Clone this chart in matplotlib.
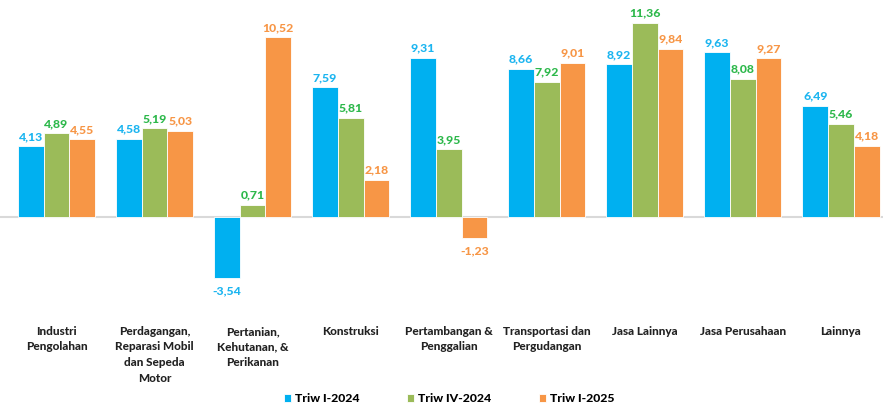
import matplotlib.pyplot as plt
import numpy as np

categories = [
    "Industri\nPengolahan",
    "Perdagangan,\nReparasi Mobil\ndan Sepeda\nMotor",
    "Pertanian,\nKehutanan, &\nPerikanan",
    "Konstruksi",
    "Pertambangan &\nPenggalian",
    "Transportasi dan\nPergudangan",
    "Jasa Lainnya",
    "Jasa Perusahaan",
    "Lainnya",
]
series_names = ["Triw I-2024", "Triw IV-2024", "Triw I-2025"]
triw1_2024 = [4.13, 4.58, -3.54, 7.59, 9.31, 8.66, 8.92, 9.63, 6.49]
triw4_2024 = [4.89, 5.19, 0.71, 5.81, 3.95, 7.92, 11.36, 8.08, 5.46]
triw1_2025 = [4.55, 5.03, 10.52, 2.18, -1.23, 9.01, 9.84, 9.27, 4.18]

bar_colors = ["#00B0F0", "#9BBB59", "#F79646"]
text_colors = ["#1CB5F0", "#2DB84B", "#F79646"]

plt.rcParams['font.family'] = ['Lato', 'DejaVu Sans']

W, H = 883, 408
fig = plt.figure(figsize=(W / 100, H / 100), dpi=100)
ax = fig.add_axes([0, 0, 1, 1])

x = np.arange(len(categories))
w = 0.262
data = [triw1_2024, triw4_2024, triw1_2025]
for k, vals in enumerate(data):
    pos = x + (k - 1) * w
    ax.bar(pos, vals, width=w, color=bar_colors[k], edgecolor="white",
           linewidth=0.6, label=series_names[k], zorder=2)
    for px, v in zip(pos, vals):
        lbl = f"{v:.2f}".replace(".", ",")
        if v >= 0:
            ax.text(px, v + 0.25, lbl, ha="center", va="bottom", fontsize=8.8,
                    fontweight="black", color=text_colors[k])
        else:
            ax.text(px, v - 0.45, lbl, ha="center", va="top", fontsize=8.8,
                    fontweight="black", color=text_colors[k])

ax.axhline(0, color="#D9D9D9", linewidth=1.5, zorder=1)

# pixel layout: group 0 centre at 56.5 px, groups 98.06 px apart, zero at y=217
spacing = 98.06
ax.set_xlim(-56.5 / spacing, (W - 56.5) / spacing)
ppu = 17.1
ax.set_ylim(-(H - 217) / ppu, 217 / ppu)
ax.axis("off")

for i, c in enumerate(categories):
    ax.annotate(c, xy=(i, 0), xycoords="data", xytext=(0, -(326 - 217)),
                textcoords="offset pixels", ha="center", va="top",
                fontsize=8.5, fontweight="black", color="#222222",
                linespacing=1.5)

fig.legend(loc="center", bbox_to_anchor=(449 / W, 1 - 399 / H), ncol=3,
           frameon=False, handlelength=0.6, handleheight=0.6,
           handletextpad=0.3, columnspacing=3.9,
           prop={"weight": "black", "size": 8.8})

fig.savefig("out.png", dpi=100)
